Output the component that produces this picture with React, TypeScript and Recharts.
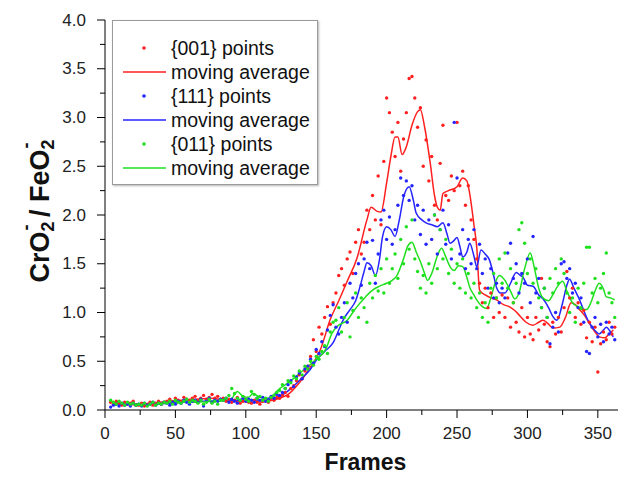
import React from "react";
import { ComposedChart, XAxis, YAxis, Line, Scatter, Legend } from "recharts";

const FONT = '"Liberation Sans", Arial, Helvetica, sans-serif';

const FRAMES = [
  4, 6, 8, 10, 12, 14, 16, 18, 20, 22,
  24, 26, 28, 30, 32, 34, 36, 38, 40, 42,
  44, 46, 48, 50, 52, 54, 56, 58, 60, 62,
  64, 66, 68, 70, 72, 74, 76, 78, 80, 82,
  84, 86, 88, 90, 92, 94, 96, 98, 100, 102,
  104, 106, 108, 110, 112, 114, 116, 118, 120, 122,
  124, 126, 128, 130, 132, 134, 136, 138, 140, 142,
  144, 146, 148, 150, 152, 154, 156, 158, 160, 162,
  164, 166, 168, 170, 172, 174, 176, 178, 180, 182,
  184, 186, 188, 190, 192, 194, 196, 198, 200, 202,
  204, 206, 208, 210, 212, 214, 216, 218, 220, 222,
  224, 226, 228, 230, 232, 234, 236, 238, 240, 242,
  244, 246, 248, 250, 252, 254, 256, 258, 260, 262,
  264, 266, 268, 270, 272, 274, 276, 278, 280, 282,
  284, 286, 288, 290, 292, 294, 296, 298, 300, 302,
  304, 306, 308, 310, 312, 314, 316, 318, 320, 322,
  324, 326, 328, 330, 332, 334, 336, 338, 340, 342,
  344, 346, 348, 350, 352, 354, 356, 358, 360, 362,
];

const RED_POINTS = [
  0.08, 0.06, 0.09, 0.07, 0.05, 0.08, 0.06, 0.07, 0.09, 0.05,
  0.05, 0.07, 0.04, 0.06, 0.08, 0.05, 0.07, 0.09, 0.06, 0.08,
  0.09, 0.11, 0.08, 0.12, 0.10, 0.09, 0.13, 0.11, 0.10, 0.12,
  0.14, 0.10, 0.12, 0.15, 0.11, 0.13, 0.16, 0.12, 0.14, 0.11,
  0.12, 0.09, 0.11, 0.08, 0.10, 0.13, 0.07, 0.09, 0.11, 0.08,
  0.07, 0.10, 0.08, 0.06, 0.09, 0.11, 0.08, 0.12, 0.10, 0.13,
  0.12, 0.15, 0.18, 0.14, 0.22, 0.25, 0.30, 0.36, 0.32, 0.40,
  0.45, 0.55, 0.72, 0.60, 0.85, 0.78, 0.95, 1.06, 0.88, 1.10,
  1.20, 1.38, 1.45, 1.28, 1.55, 1.62, 1.40, 1.72, 1.85, 1.60,
  1.72, 2.05, 1.85, 2.20, 1.95, 2.40, 1.90, 2.55, 3.20, 3.05,
  2.85, 2.60, 2.95, 2.45, 2.78, 3.05, 3.40, 3.42, 3.20, 2.90,
  3.10, 2.50, 2.77, 2.35, 2.60, 2.10, 1.95, 2.53, 2.92, 2.20,
  2.15, 2.40, 2.25, 2.95, 2.30, 2.45, 2.10, 2.30, 1.95, 1.75,
  1.55, 1.30, 1.10, 1.25, 1.05, 1.20, 0.95, 1.15, 1.00, 1.18,
  0.95, 1.15, 0.85, 1.10, 0.90, 0.80, 1.05, 0.75, 0.95, 0.78,
  0.72, 0.95, 0.82, 1.35, 0.88, 0.70, 0.65, 0.90, 0.78, 0.95,
  0.80, 1.05, 1.42, 1.15, 1.25, 0.95, 1.10, 0.88, 1.02, 0.74,
  0.90, 0.70, 0.85, 0.39, 0.68, 0.80, 0.72, 0.90, 0.78, 0.85,
];

const BLUE_POINTS = [
  0.03, 0.05, 0.06, 0.04, 0.07, 0.05, 0.06, 0.04, 0.07, 0.05,
  0.06, 0.04, 0.07, 0.05, 0.06, 0.08, 0.05, 0.07, 0.06, 0.08,
  0.07, 0.05, 0.08, 0.06, 0.09, 0.07, 0.10, 0.08, 0.06, 0.09,
  0.10, 0.08, 0.11, 0.04, 0.09, 0.12, 0.08, 0.10, 0.09, 0.11,
  0.10, 0.12, 0.08, 0.11, 0.09, 0.07, 0.10, 0.12, 0.09, 0.11,
  0.10, 0.08, 0.12, 0.10, 0.13, 0.09, 0.11, 0.14, 0.12, 0.16,
  0.15, 0.18, 0.22, 0.26, 0.30, 0.24, 0.34, 0.38, 0.32, 0.42,
  0.45, 0.52, 0.48, 0.62, 0.58, 0.70, 0.65, 0.82, 0.97, 1.08,
  0.85, 0.78, 0.95, 1.10, 0.90, 1.30, 1.15, 1.40, 1.50, 1.28,
  1.55, 1.72, 1.45, 1.74, 1.30, 1.60, 1.95, 2.05, 1.75, 1.98,
  1.70, 1.85, 2.10, 2.38, 2.20, 2.35, 2.15, 2.30, 1.95, 2.10,
  1.80, 2.05, 1.70, 1.95, 1.75, 2.00, 1.60, 1.85, 2.05, 1.70,
  1.90, 1.55, 2.95, 2.38, 1.60, 1.85, 1.45, 1.75, 1.50, 1.85,
  1.45, 1.70, 1.40, 1.55, 1.25, 1.45, 1.15, 1.30, 1.10, 1.25,
  1.15, 1.61, 1.71, 1.35, 1.50, 1.20, 1.40, 1.30, 1.55, 1.10,
  1.78, 1.20, 1.35, 1.05, 1.25, 0.95, 0.68, 0.85, 1.00, 0.80,
  1.50, 1.52, 1.35, 1.45, 1.20, 1.30, 1.05, 1.15, 0.90, 0.60,
  0.58, 0.85, 0.95, 0.75, 0.88, 0.70, 0.90, 0.78, 0.85, 0.72,
];

const GREEN_POINTS = [
  0.10, 0.08, 0.06, 0.09, 0.07, 0.05, 0.08, 0.06, 0.07, 0.05,
  0.06, 0.05, 0.07, 0.04, 0.06, 0.08, 0.05, 0.07, 0.06, 0.08,
  0.07, 0.09, 0.06, 0.10, 0.08, 0.07, 0.09, 0.11, 0.08, 0.10,
  0.09, 0.07, 0.10, 0.06, 0.08, 0.11, 0.07, 0.09, 0.06, 0.10,
  0.10, 0.12, 0.15, 0.22, 0.17, 0.12, 0.10, 0.14, 0.11, 0.09,
  0.19, 0.16, 0.12, 0.14, 0.10, 0.12, 0.09, 0.13, 0.15, 0.18,
  0.20, 0.26, 0.22, 0.30, 0.28, 0.35, 0.32, 0.40, 0.36, 0.45,
  0.42, 0.50, 0.46, 0.55, 0.52, 0.60, 0.66, 0.58, 0.80, 0.90,
  0.92, 1.05, 0.80, 0.95, 1.10, 0.75, 1.02, 1.20, 0.95, 1.15,
  1.05, 0.90, 1.30, 1.15, 1.38, 1.22, 1.45, 1.20, 1.55, 1.30,
  1.45, 1.60, 1.35, 1.75, 1.50, 1.88, 1.65, 1.95, 1.55, 1.42,
  1.25, 1.38, 1.20, 1.50, 1.30, 2.00, 1.45, 1.85, 1.55, 1.75,
  1.40, 1.65, 1.30, 1.50, 1.25, 1.55, 1.20, 1.40, 1.15, 1.30,
  1.05, 1.20, 0.95, 1.10, 0.90, 1.25, 1.40, 1.15, 1.55, 1.30,
  1.61, 1.25, 1.45, 1.10, 1.30, 1.85, 1.92, 1.71, 1.40, 1.55,
  1.30, 1.45, 1.15, 1.05, 1.25, 0.95, 1.35, 1.20, 1.45, 1.30,
  1.55, 1.40, 1.20, 1.00, 1.15, 0.90, 1.25, 1.05, 1.30, 1.67,
  1.67, 1.20, 1.35, 1.10, 1.25, 1.40, 1.61, 1.20, 1.10, 0.95,
];

const RED_AVG_FRAMES = [
  5, 15, 25, 35, 45, 55, 65, 75, 85, 95, 105, 115, 124, 130, 138, 145, 153, 160, 166, 172,
  179, 186, 189, 193, 196, 200, 203, 206, 208, 211, 214, 218, 222, 224, 227, 231, 234, 236, 238, 240,
  244, 250, 254, 257, 259, 262, 264, 266, 270, 274, 278, 283, 287, 291, 295, 299, 304, 308, 311, 315,
  318, 323, 327, 331, 334, 337, 341, 344, 348, 351, 355, 358, 361,
];
const RED_AVG = [
  0.07, 0.06, 0.05, 0.07, 0.09, 0.10, 0.11, 0.12, 0.10, 0.09, 0.08, 0.09, 0.12, 0.16, 0.28, 0.42, 0.62, 0.93, 1.12, 1.32,
  1.56, 1.95, 2.08, 2.04, 2.03, 2.33, 2.60, 2.80, 2.80, 2.62, 2.70, 2.92, 3.06, 3.08, 2.90, 2.53, 2.20, 2.08, 2.05, 2.22,
  2.25, 2.29, 2.38, 2.35, 2.22, 1.90, 1.67, 1.23, 1.18, 1.15, 1.13, 1.08, 1.06, 1.02, 0.96, 0.90, 0.87, 0.90, 0.92, 0.88,
  0.84, 0.85, 0.95, 1.10, 1.08, 1.03, 0.96, 0.89, 0.80, 0.75, 0.74, 0.78, 0.82,
];

const BLUE_AVG_FRAMES = [
  5, 15, 25, 35, 45, 55, 65, 75, 85, 95, 105, 115, 124, 132, 140, 146, 150, 156, 162, 166,
  169, 174, 178, 181, 184, 186, 189, 192, 195, 197, 200, 203, 206, 209, 212, 216, 219, 221, 225, 228,
  232, 236, 240, 243, 245, 248, 250, 252, 254, 257, 259, 262, 264, 267, 270, 273, 276, 278, 281, 284,
  288, 292, 295, 297, 300, 304, 308, 311, 315, 318, 321, 325, 328, 330, 333, 337, 340, 343, 346, 349,
  351, 354, 356, 359, 361,
];
const BLUE_AVG = [
  0.05, 0.06, 0.06, 0.06, 0.07, 0.08, 0.09, 0.09, 0.10, 0.10, 0.10, 0.11, 0.14, 0.22, 0.33, 0.42, 0.51, 0.60, 0.69, 0.82,
  0.92, 1.03, 1.12, 1.26, 1.42, 1.51, 1.48, 1.38, 1.55, 1.77, 1.88, 1.85, 1.78, 1.95, 2.18, 2.29, 2.15, 2.02, 1.95, 1.92,
  1.90, 1.88, 1.92, 1.80, 1.71, 1.74, 1.77, 1.68, 1.57, 1.62, 1.71, 1.58, 1.47, 1.64, 1.60, 1.54, 1.38, 1.26, 1.20, 1.20,
  1.30, 1.41, 1.38, 1.36, 1.28, 1.27, 1.18, 1.14, 1.05, 0.96, 0.92, 1.10, 1.28, 1.34, 1.25, 1.13, 1.02, 0.92, 0.85, 0.80,
  0.78, 0.82, 0.85, 0.80, 0.75,
];

const GREEN_AVG_FRAMES = [
  5, 15, 25, 35, 45, 55, 65, 75, 85, 90, 94, 98, 102, 105, 110, 116, 124, 132, 141, 150,
  157, 161, 165, 172, 176, 179, 185, 190, 195, 200, 204, 207, 212, 215, 218, 221, 224, 227, 229, 232,
  236, 239, 242, 245, 248, 251, 254, 257, 259, 262, 264, 268, 271, 274, 277, 280, 284, 288, 291, 294,
  298, 302, 305, 308, 311, 315, 318, 321, 325, 328, 332, 336, 339, 342, 345, 348, 351, 354, 356, 359,
  362,
];
const GREEN_AVG = [
  0.08, 0.07, 0.06, 0.06, 0.08, 0.09, 0.08, 0.09, 0.10, 0.12, 0.19, 0.14, 0.13, 0.17, 0.13, 0.12, 0.22, 0.30, 0.41, 0.52,
  0.63, 0.78, 0.86, 0.92, 1.00, 1.06, 1.16, 1.23, 1.27, 1.30, 1.33, 1.37, 1.55, 1.68, 1.72, 1.62, 1.52, 1.40, 1.33, 1.40,
  1.58, 1.66, 1.57, 1.47, 1.43, 1.48, 1.47, 1.36, 1.26, 1.18, 1.13, 1.06, 1.04, 1.15, 1.30, 1.38, 1.33, 1.22, 1.14, 1.20,
  1.45, 1.61, 1.45, 1.25, 1.15, 1.12, 1.18, 1.26, 1.32, 1.22, 1.10, 1.06, 1.03, 1.03, 1.10, 1.22, 1.30, 1.24, 1.16, 1.15,
  1.13,
];

const X_TICKS = [0, 25, 50, 75, 100, 125, 150, 175, 200, 225, 250, 275, 300, 325, 350];
const Y_TICKS = [0, 0.25, 0.5, 0.75, 1, 1.25, 1.5, 1.75, 2, 2.25, 2.5, 2.75, 3, 3.25, 3.5, 3.75, 4];

const RED = "#ff1f1f";
const BLUE = "#2424ff";
const GREEN = "#1fe01f";

const LEGEND_ITEMS = [
  { label: "{001} points", color: RED, kind: "dot" },
  { label: "moving average", color: RED, kind: "line" },
  { label: "{111} points", color: BLUE, kind: "dot" },
  { label: "moving average", color: BLUE, kind: "line" },
  { label: "{011} points", color: GREEN, kind: "dot" },
  { label: "moving average", color: GREEN, kind: "line" },
];

const pts = (ys: number[]) => FRAMES.map((x, i) => ({ x, y: ys[i] }));
const avg = (xs: number[], ys: number[]) => xs.map((x, i) => ({ x, y: ys[i] }));

const redPts = pts(RED_POINTS);
const bluePts = pts(BLUE_POINTS);
const greenPts = pts(GREEN_POINTS);
const redAvg = avg(RED_AVG_FRAMES, RED_AVG);
const blueAvg = avg(BLUE_AVG_FRAMES, BLUE_AVG);
const greenAvg = avg(GREEN_AVG_FRAMES, GREEN_AVG);

const Dot = (props: any) => {
  const { cx, cy, fill } = props;
  if (cx == null || cy == null) return null;
  return <circle cx={cx} cy={cy} r={1.7} fill={fill} />;
};

const XTick = (props: any) => {
  const { x, y, payload } = props;
  const v = payload.value;
  const major = v % 50 === 0;
  return (
    <g>
      <line x1={x} x2={x} y1={y} y2={y + (major ? 8 : 5)} stroke="#000" strokeWidth={1} />
      {major && (
        <text x={x} y={y + 23} textAnchor="middle" dominantBaseline="central" fontFamily={FONT} fontSize={17} fill="#222">
          {v}
        </text>
      )}
    </g>
  );
};

const YTick = (props: any) => {
  const { x, y, payload } = props;
  const v = payload.value;
  const major = Math.abs(v * 2 - Math.round(v * 2)) < 1e-6;
  return (
    <g>
      <line x1={x} x2={x - (major ? 8 : 5)} y1={y} y2={y} stroke="#000" strokeWidth={1} />
      {major && (
        <text x={x - 19} y={y} textAnchor="end" dominantBaseline="central" fontFamily={FONT} fontSize={17} fill="#222">
          {v.toFixed(1)}
        </text>
      )}
    </g>
  );
};

const YTitle = (props: any) => {
  const vb = props.viewBox || { x: 0, y: 12, width: 97, height: 390 };
  const cx = 32;
  const cy = vb.y + vb.height / 2 - 4;
  return (
    <text
      x={cx}
      y={cy}
      transform={`rotate(-90, ${cx}, ${cy})`}
      textAnchor="middle"
      dominantBaseline="central"
      fontFamily={FONT}
      fontWeight="bold"
      fontSize={27}
      fill="#111"
    >
      CrO
      <tspan fontSize={18} dy={8}>2</tspan>
      <tspan fontSize={18} dx={-9} dy={-22}>-</tspan>
      <tspan dy={14}> / FeO</tspan>
      <tspan fontSize={18} dy={8}>2</tspan>
      <tspan fontSize={18} dx={-9} dy={-22}>-</tspan>
    </text>
  );
};

const XTitle = (props: any) => {
  const vb = props.viewBox || { x: 97, y: 402, width: 521, height: 30 };
  return (
    <text
      x={vb.x + vb.width / 2}
      y={454}
      textAnchor="middle"
      dominantBaseline="central"
      fontFamily={FONT}
      fontWeight="bold"
      fontSize={23}
      fill="#111"
    >
      Frames
    </text>
  );
};

const LegendBox = () => (
  <div
    style={{
      width: 206,
      height: 165,
      boxSizing: "border-box",
      border: "1px solid #9a9a9a",
      boxShadow: "1px 1px 2px rgba(0,0,0,0.3)",
      background: "#fff",
      paddingTop: 15,
      fontFamily: FONT,
      fontSize: 19.5,
      color: "#111",
    }}
  >
    {LEGEND_ITEMS.map((it, i) => (
      <div key={i} style={{ display: "flex", alignItems: "center", height: 24 }}>
        <svg width={58} height={24} style={{ flex: "none" }}>
          {it.kind === "dot" ? (
            <circle cx={31} cy={12} r={1.8} fill={it.color} />
          ) : (
            <line x1={10} x2={53} y1={12} y2={12} stroke={it.color} strokeWidth={1.5} />
          )}
        </svg>
        <span style={{ whiteSpace: "nowrap", lineHeight: "24px" }}>{it.label}</span>
      </div>
    ))}
  </div>
);

export default function App() {
  return (
    <ComposedChart width={618} height={470} margin={{ top: 12, right: 0, bottom: 38, left: 0 }}>
      <XAxis
        type="number"
        dataKey="x"
        domain={[0, 370]}
        ticks={X_TICKS}
        interval={0}
        allowDataOverflow
        tickLine={false}
        tickSize={0}
        tickMargin={0}
        tick={<XTick />}
        axisLine={{ stroke: "#000", strokeWidth: 1 }}
        height={30}
        label={<XTitle />}
      />
      <YAxis
        type="number"
        dataKey="y"
        domain={[0, 4]}
        ticks={Y_TICKS}
        interval={0}
        allowDataOverflow
        tickLine={false}
        tickSize={0}
        tickMargin={0}
        tick={<YTick />}
        axisLine={{ stroke: "#000", strokeWidth: 1 }}
        width={97}
        label={<YTitle />}
      />
      <Legend
        layout="vertical"
        align="center"
        verticalAlign="middle"
        content={() => <LegendBox />}
        wrapperStyle={{ position: "absolute", left: 104, top: 12, width: 206, height: 165 }}
      />
      <Scatter data={redPts} dataKey="y" fill={RED} shape={<Dot />} isAnimationActive={false} />
      <Line data={redAvg} dataKey="y" type="monotone" stroke={RED} strokeWidth={1.5} dot={false} isAnimationActive={false} />
      <Scatter data={bluePts} dataKey="y" fill={BLUE} shape={<Dot />} isAnimationActive={false} />
      <Line data={blueAvg} dataKey="y" type="monotone" stroke={BLUE} strokeWidth={1.5} dot={false} isAnimationActive={false} />
      <Scatter data={greenPts} dataKey="y" fill={GREEN} shape={<Dot />} isAnimationActive={false} />
      <Line data={greenAvg} dataKey="y" type="monotone" stroke={GREEN} strokeWidth={1.5} dot={false} isAnimationActive={false} />
    </ComposedChart>
  );
}
